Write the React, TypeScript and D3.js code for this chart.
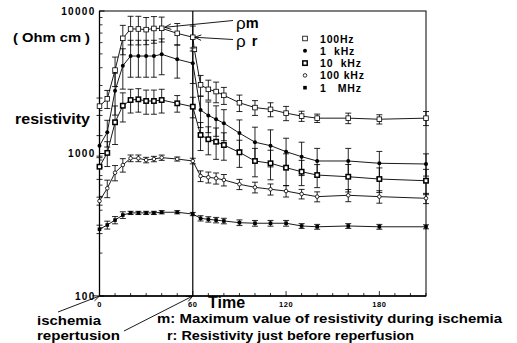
import React from "react";
import * as d3 from "d3";

// Sampling times (minutes). Ischemia 0–60, reperfusion from 60 on.
const times = [0, 5, 10, 15, 20, 25, 30, 35, 40, 50, 60, 61, 65, 70, 75, 80, 90, 100, 110, 120, 130, 140, 160, 180, 210];

// Mean resistivity (Ohm cm) per frequency; null = not sampled at that time.
const hz100 = [2150, 2420, 3850, 6430, 7480, 7480, 7400, 7540, 7560, 6970, 6540, 5380, 3030, 2820, 2720, 2560, 2270, 2100, 2040, 1920, 1830, 1770, 1770, 1740, 1770];
const khz1 = [1135, 1410, 2760, 4130, 4830, 4830, 4830, 4830, 4970, 4580, 4300, null, 2020, 1850, 1740, 1630, 1390, 1200, 1135, 1030, 950, 886, 886, 854, 844];
const khz10 = [808, 1010, 1656, 2164, 2373, 2400, 2336, 2336, 2373, 2250, 2130, null, 1349, 1259, 1210, 1147, 1019, 886, 854, 795, 745, 706, 687, 662, 644];
const khz100 = [464, 570, 733, 830, 926, 926, 900, 915, 935, 915, 886, null, 695, 681, 670, 652, 608, 579, 561, 545, 520, 498, 509, 498, 485];
const mhz1 = [294, 315, 341, 370, 383, 383, 383, 383, 387, 387, 376, null, 351, 345, 341, 336, 327, 324, 324, 324, 310, 306, 310, 306, 306];

// Standard deviations (Ohm cm)
const hz100Sd = [300, 350, 900, 1500, 1700, 1700, 1600, 1600, 1500, 1200, 1300, 0, 500, 450, 450, 350, 300, 250, 230, 220, 150, 120, 150, 130, 200];
const khz1Sd = [200, 300, 900, 1300, 1400, 1400, 1400, 1400, 1400, 1200, 1200, 0, 500, 450, 420, 400, 330, 330, 330, 250, 250, 200, 200, 180, 150];
const khz10Sd = [150, 200, 500, 500, 450, 450, 450, 450, 450, 300, 350, 0, 300, 280, 300, 250, 220, 200, 200, 200, 150, 130, 150, 130, 130];
const khz100Sd = [30, 80, 90, 90, 50, 50, 40, 40, 40, 30, 40, 0, 60, 60, 60, 60, 50, 50, 50, 50, 40, 40, 50, 50, 40];
const mhz1Sd = [20, 20, 20, 20, 10, 10, 10, 10, 10, 10, 10, 0, 15, 15, 15, 15, 15, 15, 15, 15, 12, 12, 12, 12, 10];

const seriesNames = ["100Hz", "1  kHz", "10  kHz", "100 kHz", "1   MHz"];
const xTickLabels = [0, 60, 120, 180];
const yTickLabels = [100, 1000, 10000];

const FONT = "'Liberation Sans', Arial, Helvetica, sans-serif";

type Shape = "openSquare" | "dot" | "boldSquare" | "openCircle" | "smallSquare";
const shapes: Shape[] = ["openSquare", "dot", "boldSquare", "openCircle", "smallSquare"];

function Marker({ shape, x, y }: { shape: Shape; x: number; y: number }) {
  switch (shape) {
    case "openSquare":
      return <rect x={x - 2.3} y={y - 2.3} width={4.6} height={4.6} fill="#fff" stroke="#000" strokeWidth={0.8} />;
    case "dot":
      return <circle cx={x} cy={y} r={2} fill="#000" />;
    case "boldSquare":
      return <rect x={x - 2.2} y={y - 2.2} width={4.4} height={4.4} fill="#fff" stroke="#000" strokeWidth={1.5} />;
    case "openCircle":
      return <circle cx={x} cy={y} r={1.8} fill="#fff" stroke="#000" strokeWidth={0.8} />;
    case "smallSquare":
      return <rect x={x - 1.8} y={y - 1.8} width={3.6} height={3.6} fill="#000" />;
  }
}

function Arrow({ x1, y1, x2, y2 }: { x1: number; y1: number; x2: number; y2: number }) {
  const a = Math.atan2(y1 - y2, x1 - x2);
  const len = 7;
  const spread = 0.4;
  const p1 = [x2 + len * Math.cos(a + spread), y2 + len * Math.sin(a + spread)];
  const p2 = [x2 + len * Math.cos(a - spread), y2 + len * Math.sin(a - spread)];
  return (
    <g stroke="#000" strokeWidth={0.9} fill="none">
      <line x1={x1} y1={y1} x2={x2} y2={y2} />
      <polyline points={`${p1[0]},${p1[1]} ${x2},${y2} ${p2[0]},${p2[1]}`} />
    </g>
  );
}

export default function App() {
  const W = 517;
  const H = 343;
  const left = 99.5;
  const right = 426;
  const top = 11;
  const bottom = 296;

  const x = d3.scaleLinear().domain([0, 210]).range([left, right]);
  const y = d3.scaleLog().domain([100, 10000]).range([bottom, top]);

  const all = [hz100, khz1, khz10, khz100, mhz1];
  const sds = [hz100Sd, khz1Sd, khz10Sd, khz100Sd, mhz1Sd];

  const line = d3
    .line<{ t: number; v: number }>()
    .x((d) => x(d.t))
    .y((d) => y(d.v));

  const minorY: number[] = [];
  [100, 1000].forEach((b) => {
    for (let k = 2; k <= 9; k++) minorY.push(b * k);
  });
  const minorX = d3.range(0, 211, 10);

  const tM = 40;
  const tR = 60;

  return (
    <svg width={W} height={H} style={{ position: "absolute", left: 0, top: 0, background: "#fff" }} fontFamily={FONT}>
      <rect x={0} y={0} width={W} height={H} fill="#fff" />

      {/* frame */}
      <rect x={left} y={top} width={right - left} height={bottom - top} fill="none" stroke="#000" strokeWidth={1} />
      <line x1={left} y1={top} x2={left} y2={bottom} stroke="#000" strokeWidth={1.3} />
      <line x1={left} y1={bottom} x2={right} y2={bottom} stroke="#000" strokeWidth={1.3} />

      {/* reperfusion marker */}
      <line x1={x(60)} y1={top} x2={x(60)} y2={bottom} stroke="#000" strokeWidth={1.2} />

      {/* y ticks */}
      {yTickLabels.map((v) => (
        <g key={v}>
          <line x1={left} x2={left + 5} y1={y(v)} y2={y(v)} stroke="#000" />
          <text x={left - 4} y={y(v) + 3.5} fontSize={10} fontWeight="bold" letterSpacing={1.3} textAnchor="end">
            {v}
          </text>
        </g>
      ))}
      {minorY.map((v) => (
        <line key={v} x1={left} x2={left + 3} y1={y(v)} y2={y(v)} stroke="#000" strokeWidth={0.8} />
      ))}

      {/* x ticks */}
      {minorX.map((t) => (
        <line key={t} x1={x(t)} x2={x(t)} y1={bottom} y2={bottom - (t % 60 === 0 ? 5 : 3)} stroke="#000" strokeWidth={0.8} />
      ))}
      {xTickLabels.map((t) => (
        <text key={t} x={x(t)} y={306.5} fontSize={7.5} fontWeight="bold" textAnchor="middle" letterSpacing={0.5}>
          {t}
        </text>
      ))}

      {/* series */}
      {all.map((vals, si) => {
        const pts = times
          .map((t, i) => ({ t, v: vals[i] as number | null, sd: sds[si][i] }))
          .filter((d) => d.v != null) as { t: number; v: number; sd: number }[];
        return (
          <g key={si}>
            <path d={line(pts) || ""} fill="none" stroke="#000" strokeWidth={0.9} />
            {pts.map((d, i) =>
              d.sd > 0 ? (
                <g key={i} stroke="#000" strokeWidth={0.85}>
                  <line x1={x(d.t)} x2={x(d.t)} y1={y(d.v + d.sd)} y2={y(Math.max(d.v - d.sd, 101))} />
                  <line x1={x(d.t) - 3} x2={x(d.t) + 3} y1={y(d.v + d.sd)} y2={y(d.v + d.sd)} />
                  <line x1={x(d.t) - 3} x2={x(d.t) + 3} y1={y(d.v - d.sd)} y2={y(d.v - d.sd)} />
                </g>
              ) : null
            )}
            {pts.map((d, i) => (
              <Marker key={"m" + i} shape={shapes[si]} x={x(d.t)} y={y(d.v)} />
            ))}
          </g>
        );
      })}

      {/* legend */}
      {seriesNames.map((name, i) => (
        <g key={name}>
          <Marker shape={shapes[i]} x={305} y={38.5 + i * 12.3} />
          <text x={320} y={42.5 + i * 12.3} fontSize={10.5} fontWeight="bold" letterSpacing={0.8} style={{ whiteSpace: "pre" }}>
            {name}
          </text>
        </g>
      ))}

      {/* annotations for rho_m and rho_r */}
      <Arrow x1={233} y1={20.5} x2={x(tM) + 3} y2={y(hz100[times.indexOf(tM)]) - 1} />
      <Arrow x1={233} y1={39.5} x2={x(tR) + 2} y2={y(hz100[times.indexOf(tR)])} />
      <text x={236} y={29} fontSize={17}>
        ρ<tspan fontSize={14.5} fontWeight="bold" dy={-1}>m</tspan>
      </text>
      <text x={236} y={47} fontSize={17}>
        ρ<tspan fontSize={14.5} fontWeight="bold" dx={6} dy={-1}>r</tspan>
      </text>

      {/* y axis titles */}
      <text x={13} y={42} fontSize={13.5} fontWeight="bold" textLength={77} lengthAdjust="spacingAndGlyphs" style={{ whiteSpace: "pre" }}>
        ( Ohm cm )
      </text>
      <text x={15} y={124} fontSize={15.5} fontWeight="bold" textLength={75} lengthAdjust="spacingAndGlyphs">
        resistivity
      </text>

      {/* x axis title and notes */}
      <text x={208} y={307.5} fontSize={16} fontWeight="bold">
        Time
      </text>
      <text x={157} y={322.5} fontSize={12.5} fontWeight="bold" textLength={345} lengthAdjust="spacingAndGlyphs">
        m: Maximum value of resistivity during ischemia
      </text>
      <text x={167} y={340} fontSize={12.5} fontWeight="bold" textLength={247} lengthAdjust="spacingAndGlyphs">
        r: Resistivity just before reperfusion
      </text>
      <text x={37} y={325} fontSize={12.5} fontWeight="bold" textLength={64} lengthAdjust="spacingAndGlyphs">
        ischemia
      </text>
      <text x={37} y={339.5} fontSize={12.5} fontWeight="bold" textLength={83} lengthAdjust="spacingAndGlyphs">
        repertusion
      </text>
      <Arrow x1={58} y1={312} x2={x(0)} y2={bottom} />
      <Arrow x1={124} y1={331} x2={x(60)} y2={bottom} />
    </svg>
  );
}
